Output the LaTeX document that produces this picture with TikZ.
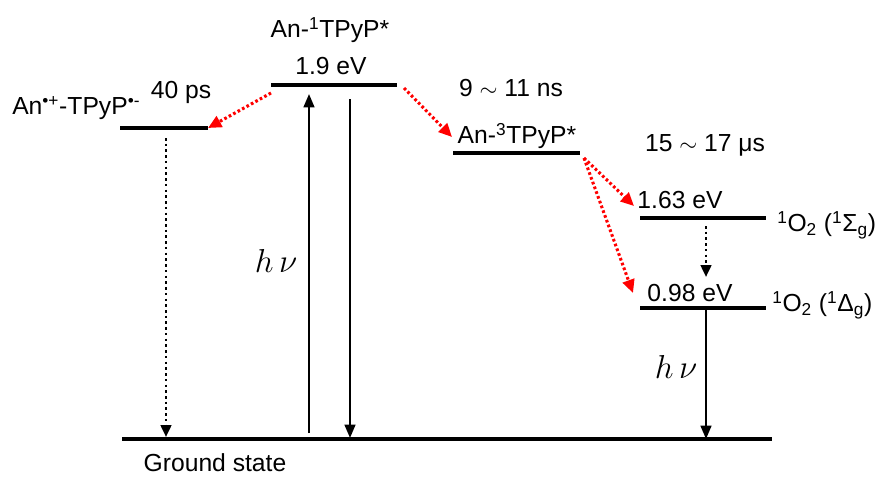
\documentclass[tikz,border=0pt]{standalone}
\usepackage{fontspec}
\setmainfont{Liberation Sans}
\usetikzlibrary{arrows.meta}
\begin{document}
\begin{tikzpicture}[x=0.75pt,y=-0.75pt,
  lvl/.style={line width=2.6pt},
  txt/.style={font=\fontsize{18.5}{21}\selectfont, inner sep=0pt},
  solidarr/.style={line width=1.7pt,-{Triangle[length=10pt,width=8pt]}},
  dotarr/.style={line width=1.9pt,dash pattern=on 1.9pt off 2.4pt,-{Triangle[length=9pt,width=8pt]}},
  redarr/.style={red,line width=2.3pt,dash pattern=on 2pt off 1.8pt,-{Triangle[length=10pt,width=9pt]}}]
\useasboundingbox (0,0) rectangle (888,478);
% levels
\draw[lvl] (120,128) coordinate (cs1) -- (208,128) coordinate (cs2);
\draw[lvl] (271,85) coordinate (s1a) -- (397,85) coordinate (s1b);
\draw[lvl] (453,153) coordinate (t1a) -- (580,153) coordinate (t1b);
\draw[lvl] (640,218) coordinate (sga) -- (766,218) coordinate (sgb);
\draw[lvl] (640,308) coordinate (dga) -- (766,308) coordinate (dgb);
\draw[lvl] (122,439) coordinate (g1) -- (772,439) coordinate (g2);
% labels
\node[txt,anchor=west] (lcs) at (12,108) {An\textsuperscript{•+}-TPyP\textsuperscript{•-}};
\node[txt] (l40) at (181,92) {40 ps};
\node[txt] (ls1) at (330,30) {An-\textsuperscript{1}TPyP*};
\node[txt] (l19) at (331,66) {1.9 eV};
\node[txt] (l911) at (511,88) {9 $\sim$ 11 ns};
\node[txt] (lt1) at (517,136) {An-\textsuperscript{3}TPyP*};
\node[txt] (l1517) at (705,145) {15 $\sim$ 17 μs};
\node[txt] (l163) at (680,200) {1.63 eV};
\node[txt,anchor=west] (lsg) at (777,225) {\textsuperscript{1}O\textsubscript{2} (\textsuperscript{1}Σ\textsubscript{g})};
\node[txt] (l098) at (690,293) {0.98 eV};
\node[txt,anchor=west] (ldg) at (772,305) {\textsuperscript{1}O\textsubscript{2} (\textsuperscript{1}Δ\textsubscript{g})};
\node[txt] (hv1) at (276,261) {\fontsize{23}{25}\selectfont$h\,\nu$};
\node[txt] (hv2) at (676,367) {\fontsize{23}{25}\selectfont$h\,\nu$};
\node[txt] (lgs) at (215,463) {Ground state};
% coordinates for arrows
\coordinate (u0) at (309,433);
\coordinate (u1) at (309,94);
\coordinate (d0) at (350,99);
\coordinate (d1) at (350,438);
\coordinate (c0) at (166,138);
\coordinate (c1) at (166,437);
\coordinate (s0) at (706,226);
\coordinate (s1) at (706,277);
\coordinate (e0) at (706,308);
\coordinate (e1) at (706,439);
\coordinate (r1a) at (271,93);
\coordinate (r1b) at (208,128);
\coordinate (r2a) at (404,88);
\coordinate (r2b) at (452,137);
\coordinate (r3a) at (584,158);
\coordinate (r3b) at (634,206);
\coordinate (r4b) at (633,293);
% arrows
\draw[solidarr] (u0) -- (u1);
\draw[solidarr] (d0) -- (d1);
\draw[solidarr] (e0) -- (e1);
\draw[dotarr] (c0) -- (c1);
\draw[dotarr] (s0) -- (s1);
\draw[redarr] (r1a) -- (r1b);
\draw[redarr] (r2a) -- (r2b);
\draw[redarr] (r3a) -- (r3b);
\draw[redarr] (r3a) -- (r4b);
\end{tikzpicture}
\end{document}
